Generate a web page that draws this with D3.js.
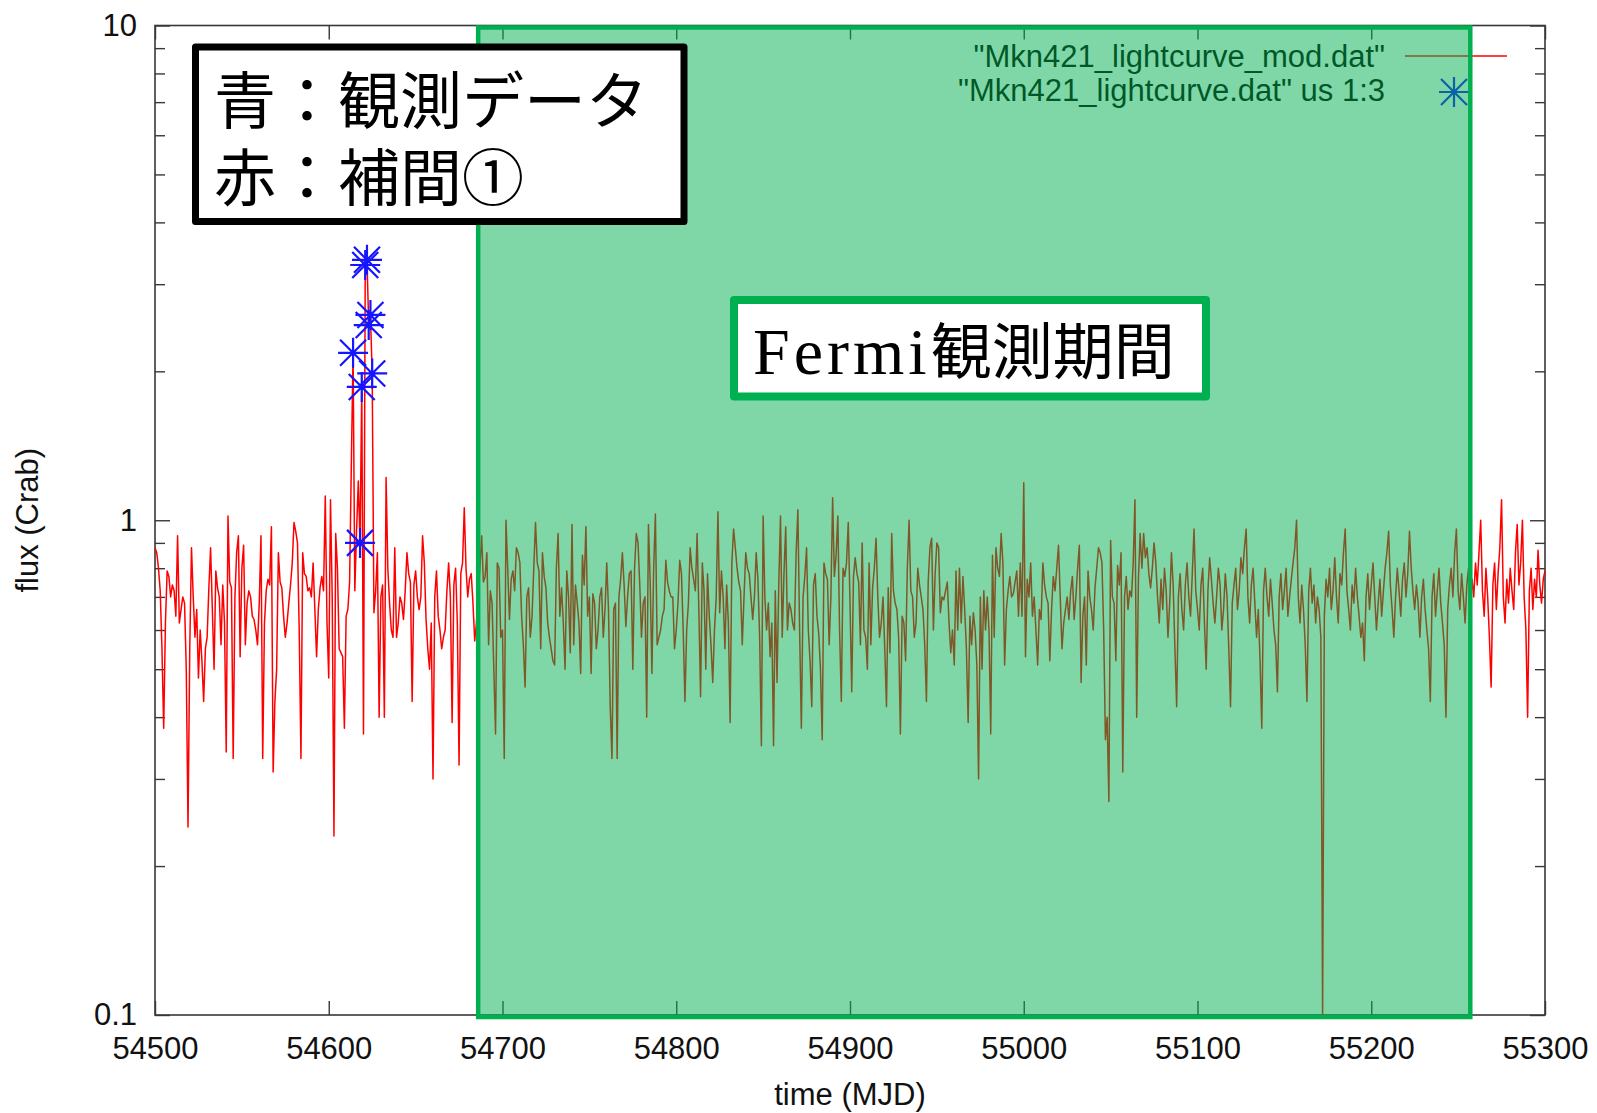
<!DOCTYPE html>
<html lang="ja">
<head>
<meta charset="utf-8">
<title>Mkn421 lightcurve</title>
<script src="https://d3js.org/d3.v7.min.js"></script>
<style>
  body { margin: 0; background: #fff; }
  text { font-family: "Liberation Sans", Arial, sans-serif; }
</style>
</head>
<body>
<div id="svgContainer"></div>
<script>
// interpolated lightcurve ("mod"), one value per day starting at MJD 54500
var modStart = 54500;
var modFlux = [
  0.88,0.86,0.80,0.72,0.55,0.38,0.62,0.79,0.77,0.70,
  0.74,0.72,0.64,0.93,0.62,0.66,0.70,0.68,0.50,0.24,
  0.55,0.88,0.70,0.58,0.66,0.48,0.60,0.52,0.43,0.55,
  0.58,0.73,0.88,0.66,0.50,0.79,0.73,0.70,0.56,0.74,
  0.62,0.34,1.02,0.75,0.73,0.33,0.70,0.86,0.93,0.53,
  0.80,0.89,0.56,0.68,0.72,0.70,0.64,0.63,0.60,0.56,
  0.68,0.93,0.33,0.62,0.72,0.76,0.74,0.97,0.31,0.43,
  0.50,0.86,0.75,0.73,0.64,0.58,0.62,0.68,0.74,0.82,
  0.99,0.95,0.90,0.60,0.33,0.86,0.78,0.77,0.72,0.73,
  0.70,0.82,0.66,0.53,0.66,0.73,0.77,0.72,1.12,0.62,
  0.48,1.10,0.70,0.23,0.94,0.80,0.55,0.54,0.53,0.38,
  0.64,0.66,0.75,1.30,2.18,0.72,0.95,1.20,0.90,1.86,
  0.37,3.28,3.36,2.48,2.60,1.98,0.65,0.72,0.86,0.40,
  0.70,0.74,0.40,1.22,0.80,0.68,0.60,0.58,0.88,0.58,
  0.62,0.70,0.68,0.63,0.72,0.86,0.78,0.75,0.43,0.74,
  0.79,0.70,0.66,0.70,0.93,0.82,0.63,0.55,0.50,0.62,
  0.30,0.70,0.79,0.64,0.60,0.55,0.58,0.60,0.72,0.82,
  0.70,0.39,0.74,0.80,0.62,0.32,0.78,0.82,1.06,0.80,
  0.70,0.76,0.78,0.68,0.57,0.62,0.72,0.80,0.93,0.75,
  0.77,0.86,0.56,0.72,0.68,0.50,0.37,0.82,0.80,0.58,
  0.60,0.33,1.00,0.80,0.63,0.76,0.79,0.72,0.88,0.86,
  0.82,0.64,0.56,0.46,0.70,0.73,0.58,0.64,0.80,0.99,
  0.82,0.79,0.55,0.86,0.77,0.73,0.62,0.58,0.55,0.52,
  0.51,0.80,0.94,0.64,0.73,0.62,0.50,0.79,0.70,0.54,
  0.98,0.56,0.74,0.68,0.62,0.49,0.85,0.74,0.97,0.64,
  0.70,0.49,0.71,0.68,0.55,0.60,0.70,0.73,0.58,0.66,
  0.82,0.66,0.42,0.33,0.66,0.68,0.33,0.70,0.76,0.86,
  0.74,0.61,0.70,0.78,0.79,0.50,0.80,0.94,0.90,0.74,
  0.58,0.68,0.70,0.40,0.98,0.75,0.49,0.80,1.03,0.56,
  0.58,0.60,0.64,0.66,0.83,0.75,0.72,0.70,0.70,0.55,
  0.60,0.68,0.83,0.78,0.60,0.43,0.60,0.68,0.88,0.80,
  0.76,0.72,0.94,0.66,0.44,0.82,0.72,0.50,0.78,0.64,
  0.56,0.47,0.60,0.70,1.04,0.65,0.79,0.70,0.55,0.74,
  0.62,0.39,0.82,0.96,0.88,0.80,0.75,0.72,0.56,0.70,
  0.86,0.80,0.78,0.70,0.63,0.70,0.86,0.76,0.58,0.35,
  1.02,0.70,0.60,0.68,0.53,0.62,0.35,0.72,0.47,0.74,
  1.02,0.58,0.78,0.97,0.60,0.68,0.66,0.62,0.60,0.86,
  1.05,0.60,0.38,0.70,0.77,0.88,0.60,0.52,0.42,0.74,
  0.78,0.64,0.59,0.50,0.36,0.82,0.78,0.76,0.56,0.70,
  1.11,0.77,0.85,1.02,0.60,0.43,0.80,0.77,0.82,0.99,
  0.68,0.45,0.77,0.84,0.78,0.75,0.56,0.90,0.60,0.58,
  0.50,0.82,0.56,0.73,0.80,0.92,0.70,0.58,0.62,0.70,
  0.55,0.42,0.73,0.54,0.94,0.72,0.68,0.66,0.58,0.37,
  0.64,0.62,0.52,0.80,1.00,0.72,0.70,0.58,0.62,0.80,
  0.74,0.70,0.66,0.56,0.43,0.75,0.88,0.92,0.60,0.78,
  0.90,0.88,0.65,0.70,0.69,0.72,0.75,0.62,0.54,0.60,
  0.51,0.79,0.60,0.80,0.62,0.77,0.66,0.55,0.39,0.64,
  0.56,0.65,0.60,0.51,0.30,0.70,0.50,0.72,0.60,0.70,
  0.60,0.37,0.85,0.58,0.88,0.80,0.77,0.94,0.82,0.51,
  0.66,0.72,0.77,0.70,0.71,0.75,0.79,0.64,0.82,0.64,
  1.19,0.53,0.76,0.70,0.82,0.64,0.70,0.60,0.51,0.66,
  0.63,0.82,0.74,0.70,0.68,0.52,0.66,0.77,0.72,0.80,
  0.89,0.70,0.55,0.62,0.66,0.70,0.63,0.72,0.77,0.63,
  0.70,0.80,0.89,0.47,0.64,0.70,0.51,0.79,0.70,0.66,
  0.60,0.73,0.80,0.88,0.86,0.82,0.60,0.36,0.40,0.27,
  0.91,0.70,0.68,0.52,0.81,0.74,0.86,0.31,0.70,0.77,
  0.66,0.72,0.70,0.82,1.10,0.40,0.76,0.94,0.80,0.94,
  0.84,0.88,0.78,0.73,0.80,0.90,0.82,0.70,0.62,0.76,
  0.66,0.80,0.72,0.58,0.68,0.86,0.74,0.55,0.42,0.70,
  0.78,0.66,0.60,0.74,0.82,0.70,0.64,0.78,0.96,0.72,
  0.66,0.60,0.74,0.80,0.62,0.50,0.72,0.84,0.76,0.68,
  0.62,0.70,0.80,0.74,0.60,0.66,0.78,0.70,0.55,0.42,
  0.68,0.74,0.80,0.66,0.72,0.84,0.78,0.88,0.96,0.70,
  0.62,0.74,0.80,0.68,0.58,0.66,0.52,0.38,0.72,0.80,
  0.70,0.64,0.76,0.68,0.60,0.56,0.45,0.70,0.78,0.66,
  0.72,0.80,0.64,0.70,0.76,0.82,0.88,1.00,0.70,0.62,
  0.74,0.66,0.56,0.43,0.72,0.80,0.68,0.74,0.62,0.70,
  0.66,0.58,0.10,0.64,0.76,0.70,0.80,0.66,0.72,0.84,
  0.70,0.62,0.78,0.74,0.86,0.96,0.72,0.66,0.60,0.74,
  0.68,0.80,0.70,0.64,0.58,0.62,0.52,0.70,0.78,0.66,
  0.74,0.82,0.70,0.60,0.68,0.76,0.64,0.72,0.80,0.86,
  0.95,0.74,0.66,0.58,0.70,0.80,0.72,0.64,0.76,0.82,
  0.70,0.78,0.95,0.80,0.72,0.66,0.74,0.68,0.58,0.70,
  0.76,0.66,0.60,0.55,0.43,0.70,0.78,0.64,0.72,0.80,
  0.68,0.62,0.56,0.40,0.66,0.74,0.80,0.70,0.86,0.96,
  0.72,0.66,0.78,0.70,0.62,0.74,0.80,0.68,0.76,0.70,
  0.82,0.74,0.86,1.00,0.72,0.64,0.80,0.70,0.58,0.46,
  0.74,0.82,0.66,0.78,0.88,1.10,0.70,0.62,0.76,0.68,
  0.80,0.72,0.66,0.86,0.98,0.74,0.82,1.00,0.70,0.60,
  0.40,0.72,0.80,0.66,0.76,0.70,0.87,0.74,0.68,0.76,
  0.79
];

// observed points ("us 1:3")
var obsMjd  = [54614, 54618, 54619, 54621, 54622, 54623, 54624, 54625];
var obsFlux = [2.18, 0.90, 1.86, 3.28, 3.36, 2.48, 2.60, 1.98];

var xTicks = [54500, 54600, 54700, 54800, 54900, 55000, 55100, 55200, 55300];
var yTicks = [0.1, 1, 10];
var yTickLabels = ["0.1", "1", "10"];

var fermiPeriod = [54686, 55257];
var legendLabels = ['"Mkn421_lightcurve_mod.dat"', '"Mkn421_lightcurve.dat" us 1:3'];
var noteLines = ["青：観測データ", "赤：補間①"];
var fermiLabel = ["Fermi", "観測期間"];

var W = 1597, H = 1113;
var plot = { left: 155, right: 1545, top: 25.5, bottom: 1015 };
var frameColor = "#383838";
var green = "#00b050";

var svg = d3.select("#svgContainer")
    .append("svg")
    .attr("width", W)
    .attr("height", H);

var x = d3.scaleLinear().domain([54500, 55300]).range([plot.left, plot.right]);
var y = d3.scaleLog().domain([0.1, 10]).range([plot.bottom, plot.top]);

var minorY = y.ticks().filter(d => yTicks.indexOf(d) < 0);

function styleAxis(g) {
    g.select(".domain").remove();
    g.selectAll(".tick line").attr("stroke", frameColor).attr("stroke-width", 1.4);
    g.selectAll(".tick text")
        .attr("fill", "#111")
        .style("font-size", "31px")
        .style("font-family", "'Liberation Sans', Arial, sans-serif");
}

// x axes (bottom with labels, top mirrored)
svg.append("g")
    .attr("transform", "translate(0," + plot.bottom + ")")
    .call(d3.axisBottom(x).tickValues(xTicks).tickSize(-14).tickPadding(22).tickFormat(d3.format("d")))
    .call(styleAxis);
svg.append("g")
    .attr("transform", "translate(0," + plot.top + ")")
    .call(d3.axisTop(x).tickValues(xTicks).tickSize(-14).tickFormat(""))
    .call(styleAxis);

// y axes (major + minor, left and right)
svg.append("g")
    .attr("transform", "translate(" + plot.left + ",0)")
    .call(d3.axisLeft(y).tickValues(yTicks).tickSize(-15).tickPadding(18).tickFormat((d, i) => yTickLabels[i]))
    .call(styleAxis);
svg.append("g")
    .attr("transform", "translate(" + plot.left + ",0)")
    .call(d3.axisLeft(y).tickValues(minorY).tickSize(-10).tickFormat(""))
    .call(styleAxis);
svg.append("g")
    .attr("transform", "translate(" + plot.right + ",0)")
    .call(d3.axisRight(y).tickValues(yTicks).tickSize(-15).tickFormat(""))
    .call(styleAxis);
svg.append("g")
    .attr("transform", "translate(" + plot.right + ",0)")
    .call(d3.axisRight(y).tickValues(minorY).tickSize(-10).tickFormat(""))
    .call(styleAxis);

// frame
svg.append("rect")
    .attr("x", plot.left).attr("y", plot.top)
    .attr("width", plot.right - plot.left).attr("height", plot.bottom - plot.top)
    .attr("fill", "none").attr("stroke", frameColor).attr("stroke-width", 1.6);

// axis titles
svg.append("text")
    .attr("x", (plot.left + plot.right) / 2).attr("y", 1105)
    .attr("text-anchor", "middle")
    .style("font-size", "31px").attr("fill", "#111")
    .text("time (MJD)");
svg.append("text")
    .attr("transform", "translate(38," + ((plot.top + plot.bottom) / 2) + ") rotate(-90)")
    .attr("text-anchor", "middle")
    .style("font-size", "31px").attr("fill", "#111")
    .text("flux (Crab)");

// red interpolated curve
var modData = modFlux.map((v, i) => ({ t: modStart + i, f: v }));
var line = d3.line().x(d => x(d.t)).y(d => y(d.f));
svg.append("path")
    .datum(modData)
    .attr("d", line)
    .attr("fill", "none")
    .attr("stroke", "#ff0000")
    .attr("stroke-width", 1.5)
    .attr("stroke-linejoin", "round");

// asterisk marker
function star(cx, cy) {
    var a = 15, b = 13;
    return "M" + (cx - a) + "," + cy + "H" + (cx + a) +
        "M" + cx + "," + (cy - a) + "V" + (cy + a) +
        "M" + (cx - b) + "," + (cy - b) + "L" + (cx + b) + "," + (cy + b) +
        "M" + (cx - b) + "," + (cy + b) + "L" + (cx + b) + "," + (cy - b);
}
var obsData = obsMjd.map((t, i) => ({ t: t, f: obsFlux[i] }));
svg.append("g").selectAll("path")
    .data(obsData)
    .enter()
    .append("path")
    .attr("d", d => star(x(d.t), y(d.f)))
    .attr("stroke", "#1515ff")
    .attr("stroke-width", 2.2)
    .attr("fill", "none");

// gnuplot key
var key = svg.append("g").style("font-size", "31px").attr("fill", "#000");
key.append("text").attr("x", 1385).attr("y", 67).attr("text-anchor", "end").text(legendLabels[0]);
key.append("line").attr("x1", 1405).attr("x2", 1507).attr("y1", 56).attr("y2", 56)
    .attr("stroke", "#ff0000").attr("stroke-width", 1.5);
key.append("text").attr("x", 1385).attr("y", 101).attr("text-anchor", "end").text(legendLabels[1]);
key.append("path").attr("d", star(1454, 92)).attr("stroke", "#1515ff").attr("stroke-width", 2.2);

// Fermi observation period overlay
svg.append("rect")
    .attr("x", x(fermiPeriod[0])).attr("y", y(10) + 2)
    .attr("width", x(fermiPeriod[1]) - x(fermiPeriod[0]))
    .attr("height", y(0.1) - y(10))
    .attr("fill", green).attr("fill-opacity", 0.5)
    .attr("stroke", green).attr("stroke-width", 4.5);

// annotation: colour explanation
svg.append("rect")
    .attr("x", 195.5).attr("y", 47).attr("width", 488.5).attr("height", 174.5)
    .attr("fill", "#fff").attr("stroke", "#000").attr("stroke-width", 7)
    .attr("stroke-linejoin", "round");
svg.append("g").selectAll("text")
    .data(noteLines)
    .enter()
    .append("text")
    .attr("x", 214)
    .attr("y", (d, i) => 124 + i * 77)
    .style("font-family", "'Noto Sans CJK JP', sans-serif")
    .style("font-size", "62px")
    .attr("fill", "#000")
    .text(d => d);

// annotation: Fermi label
svg.append("rect")
    .attr("x", 734).attr("y", 300).attr("width", 472).attr("height", 96.5)
    .attr("fill", "#fff").attr("stroke", green).attr("stroke-width", 8)
    .attr("stroke-linejoin", "round");
var fermiText = svg.append("text")
    .attr("x", 753).attr("y", 374)
    .attr("fill", "#000");
fermiText.append("tspan")
    .style("font-family", "'Liberation Serif', serif")
    .style("font-size", "66px")
    .style("letter-spacing", "4px")
    .text(fermiLabel[0]);
fermiText.append("tspan")
    .style("font-family", "'Noto Sans CJK JP', sans-serif")
    .style("font-size", "61px")
    .text(fermiLabel[1]);
</script>
</body>
</html>
